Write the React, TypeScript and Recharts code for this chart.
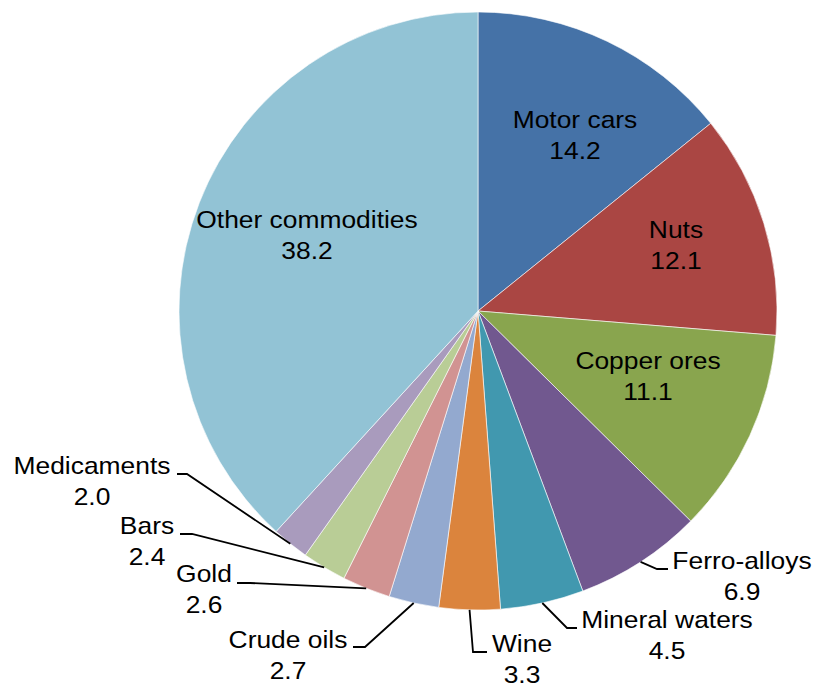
// Export commodities share pie, labels placed like the original chart
import { PieChart, Pie, Cell } from 'recharts';

const commodities = [
  'Motor cars',
  'Nuts',
  'Copper ores',
  'Ferro-alloys',
  'Mineral waters',
  'Wine',
  'Crude oils',
  'Gold',
  'Bars',
  'Medicaments',
  'Other commodities',
];

const shares = [14.2, 12.1, 11.1, 6.9, 4.5, 3.3, 2.7, 2.6, 2.4, 2.0, 38.2];

const COLORS = [
  '#4572A7',
  '#AA4643',
  '#89A54E',
  '#71588F',
  '#4198AF',
  '#DB843D',
  '#93A9CF',
  '#D19392',
  '#B9CD96',
  '#A99BBD',
  '#92C3D5',
];

// label text block (centre x, first baseline) relative to pie centre;
// outside labels also get an elbow point and the end of the short horizontal
interface LabelSpot {
  dx: number;
  dy: number;
  elbow?: [number, number];
  endX?: number;
}

const LABEL_SPOTS: LabelSpot[] = [
  { dx: 97, dy: -183 },
  { dx: 198, dy: -73 },
  { dx: 170, dy: 58 },
  { dx: 264, dy: 258, elbow: [179, 258], endX: 190 },
  { dx: 189, dy: 317, elbow: [89, 317], endX: 99 },
  { dx: 44, dy: 341, elbow: [-5, 341], endX: 9 },
  { dx: -190, dy: 337, elbow: [-113, 336], endX: -125 },
  { dx: -274, dy: 271, elbow: [-228, 272], endX: -241 },
  { dx: -331, dy: 223, elbow: [-286, 223], endX: -298 },
  { dx: -386, dy: 163, elbow: [-291, 163], endX: -301 },
  { dx: -171, dy: -83 },
];

const data = commodities.map((name, i) => ({ name, value: shares[i] }));

const RAD = Math.PI / 180;
const FONT = '"Liberation Sans", Arial, sans-serif';

function LabelLine({ x, y, text }: { x: number; y: number; text: string }) {
  // the source glyphs are a little wider than Arial, stretch them a bit
  return (
    <text
      transform={`translate(${x},${y}) scale(1.1,1)`}
      x={0}
      y={0}
      textAnchor="middle"
      fill="#000"
      fontSize={24}
      fontFamily={FONT}
    >
      {text}
    </text>
  );
}

function renderLabel(props: any) {
  const { cx, cy, midAngle, outerRadius, index, value } = props;
  const spot = LABEL_SPOTS[index];
  const tx = cx + spot.dx;
  const ty = cy + spot.dy;

  let leader = null;
  if (spot.elbow && spot.endX !== undefined) {
    const sx = cx + outerRadius * Math.cos(-midAngle * RAD);
    const sy = cy + outerRadius * Math.sin(-midAngle * RAD);
    const ex = cx + spot.elbow[0];
    const ey = cy + spot.elbow[1];
    leader = (
      <polyline
        points={`${sx},${sy} ${ex},${ey} ${cx + spot.endX},${ey}`}
        fill="none"
        stroke="#000"
        strokeWidth={1.8}
      />
    );
  }

  return (
    <g key={`lbl-${index}`}>
      {leader}
      <LabelLine x={tx} y={ty} text={commodities[index]} />
      <LabelLine x={tx} y={ty + 31} text={Number(value).toFixed(1)} />
    </g>
  );
}

export default function App() {
  return (
    <div style={{ position: 'absolute', left: 0, top: 0, width: 814, height: 683, background: '#fff' }}>
      <PieChart width={814} height={683} margin={{ top: 0, right: 0, bottom: 0, left: 0 }}>
        <Pie
          data={data}
          dataKey="value"
          nameKey="name"
          cx={478}
          cy={311}
          outerRadius={299}
          startAngle={90}
          endAngle={-270}
          label={renderLabel}
          labelLine={false}
          stroke="#ffffff"
          strokeWidth={0.6}
          isAnimationActive={false}
        >
          {data.map((d, i) => (
            <Cell key={d.name} fill={COLORS[i]} />
          ))}
        </Pie>
      </PieChart>
    </div>
  );
}
